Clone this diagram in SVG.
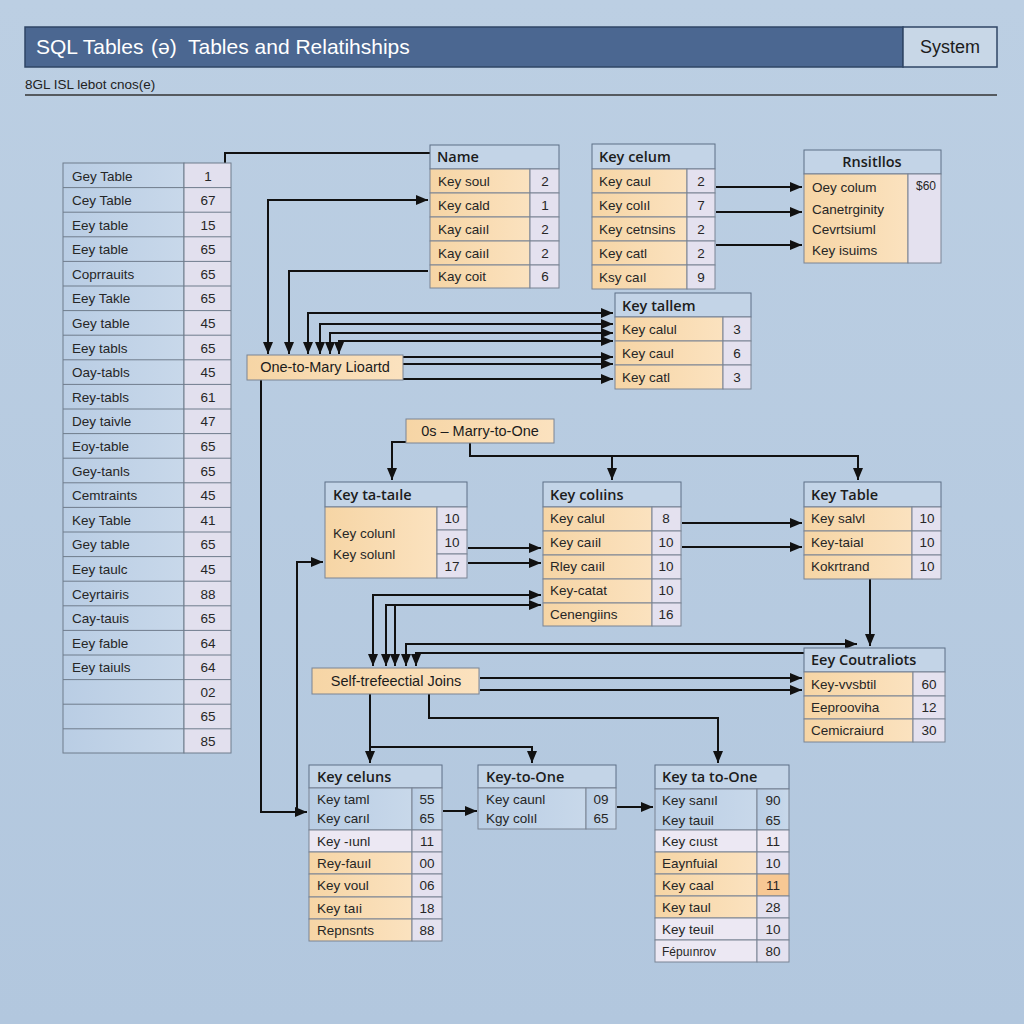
<svg xmlns="http://www.w3.org/2000/svg" width="1024" height="1024" viewBox="0 0 1024 1024">
<defs>
<linearGradient id="bg" x1="0" y1="0" x2="0" y2="1"><stop offset="0" stop-color="#bccfe3"/><stop offset="1" stop-color="#b2c7de"/></linearGradient>
<linearGradient id="org" x1="0" y1="0" x2="1" y2="0"><stop offset="0" stop-color="#f6d5a5"/><stop offset="1" stop-color="#fbe2bf"/></linearGradient>
<linearGradient id="lb" x1="0" y1="0" x2="1" y2="0"><stop offset="0" stop-color="#b9cde4"/><stop offset="1" stop-color="#c8d8ea"/></linearGradient>
<marker id="ah" viewBox="0 0 12 10" refX="12" refY="5" markerWidth="12" markerHeight="10" markerUnits="userSpaceOnUse" orient="auto-start-reverse"><path d="M0,0 L12,5 L0,10 z" fill="#111"/></marker>
</defs>
<style>
.c{fill:none;stroke:#111;stroke-width:2}
.e{marker-end:url(#ah)}
.s{marker-start:url(#ah)}
.hd{fill:#c3d4e7;stroke:#5d6f86;stroke-width:1}
.o{fill:url(#org);stroke:#7a8494;stroke-width:1}
.v{fill:#e4e1ef;stroke:#7a8494;stroke-width:1}
.b{fill:url(#lb);stroke:#7a8494;stroke-width:1}
.w{fill:#ece8f3;stroke:#7a8494;stroke-width:1}
.t{font-family:"Liberation Sans",Arial,sans-serif;font-size:13.5px;fill:#262626}
.n{font-family:"Liberation Sans",Arial,sans-serif;font-size:13.5px;fill:#262626;text-anchor:middle}
.h{font-family:"Open Sans","Liberation Sans",sans-serif;font-size:14.5px;font-weight:600;fill:#1c1c1c}
.lbl{font-family:"Liberation Sans",Arial,sans-serif;font-size:14.5px;fill:#1c1c1c;text-anchor:middle}
</style>
<rect x="0" y="0" width="1024" height="1024" fill="url(#bg)"/>

<g id="header">
<rect x="25" y="27" width="878" height="40" fill="#4b6791" stroke="#2f4666" stroke-width="1.5"/>
<rect x="903" y="27" width="94" height="40" fill="#c8d7e7" stroke="#2f4666" stroke-width="1.5"/>
<text y="54" font-family="Liberation Sans, Arial, sans-serif" font-size="21" fill="#ffffff"><tspan x="36">SQL Tables</tspan><tspan x="151">(ə)</tspan><tspan x="188">Tables and Relatihships</tspan></text>
<text x="950" y="53" font-family="Liberation Sans, Arial, sans-serif" font-size="18" fill="#1c1c1c" text-anchor="middle">System</text>
<text x="25" y="89" font-family="Liberation Sans, Arial, sans-serif" font-size="13.5" fill="#222">8GL ISL lebot cnos(e)</text>
<line x1="25" y1="95" x2="997" y2="95" stroke="#333" stroke-width="1.3"/>
</g>

<g id="connectors">
<path class="c" d="M225,163 V153 H430"/>
<path class="c s e" d="M268,354 V200 H428"/>
<path class="c e" d="M428,271 H289 V354"/>
<path class="c s e" d="M308,354 V313 H613"/>
<path class="c s e" d="M320,354 V324 H613"/>
<path class="c s e" d="M330,354 V333 H613"/>
<path class="c s e" d="M339,354 V341 H613"/>
<path class="c e" d="M403,357 H613"/>
<path class="c e" d="M403,364 H613"/>
<path class="c e" d="M403,379 H613"/>
<path class="c e" d="M261,380 V812 H307"/>
<path class="c e" d="M297,812 V562 H323"/>
<path class="c e" d="M406,442 H392 V480"/>
<path class="c e" d="M470,443 V456 H858 V480"/>
<path class="c e" d="M612,456 V480"/>
<path class="c e" d="M468,548 H541"/>
<path class="c e" d="M468,563 H541"/>
<path class="c e" d="M682,523 H802"/>
<path class="c e" d="M682,547 H802"/>
<path class="c e" d="M870,579 V646"/>
<path class="c e" d="M716,187 H802"/>
<path class="c e" d="M716,212 H802"/>
<path class="c e" d="M716,245 H802"/>
<path class="c s e" d="M373,666 V595 H541"/>
<path class="c s e" d="M386,666 V605 H541"/>
<path class="c s" d="M395,666 V605"/>
<path class="c s e" d="M406,666 V644 H857"/>
<path class="c s" d="M416,666 V653 H804"/>
<path class="c e" d="M480,678 H802"/>
<path class="c e" d="M480,690 H802"/>
<path class="c e" d="M429,694 V718 H718 V763"/>
<path class="c e" d="M370,694 V763"/>
<path class="c e" d="M370,747 H532 V763"/>
<path class="c e" d="M443,811 H477"/>
<path class="c e" d="M617,807 H653"/>
</g>

<g id="left-table">
<rect x="63" y="163" width="121" height="590" fill="url(#lb)" stroke="#6f7c8c"/>
<rect x="184" y="163" width="47" height="590" fill="#e2e0ee" stroke="#6f7c8c"/>
<g stroke="#6f7c8c" stroke-width="1">
<line x1="63" y1="187.6" x2="231" y2="187.6"/><line x1="63" y1="212.2" x2="231" y2="212.2"/><line x1="63" y1="236.8" x2="231" y2="236.8"/><line x1="63" y1="261.4" x2="231" y2="261.4"/><line x1="63" y1="286" x2="231" y2="286"/><line x1="63" y1="310.6" x2="231" y2="310.6"/><line x1="63" y1="335.2" x2="231" y2="335.2"/><line x1="63" y1="359.8" x2="231" y2="359.8"/><line x1="63" y1="384.4" x2="231" y2="384.4"/><line x1="63" y1="409" x2="231" y2="409"/><line x1="63" y1="433.6" x2="231" y2="433.6"/><line x1="63" y1="458.2" x2="231" y2="458.2"/><line x1="63" y1="482.8" x2="231" y2="482.8"/><line x1="63" y1="507.4" x2="231" y2="507.4"/><line x1="63" y1="532" x2="231" y2="532"/><line x1="63" y1="556.6" x2="231" y2="556.6"/><line x1="63" y1="581.2" x2="231" y2="581.2"/><line x1="63" y1="605.8" x2="231" y2="605.8"/><line x1="63" y1="630.4" x2="231" y2="630.4"/><line x1="63" y1="655" x2="231" y2="655"/><line x1="63" y1="679.6" x2="231" y2="679.6"/><line x1="63" y1="704.2" x2="231" y2="704.2"/><line x1="63" y1="728.8" x2="231" y2="728.8"/>
</g>
<text class="t" x="72" y="180.5">Gey Table</text><text class="n" x="208" y="180.5">1</text>
<text class="t" x="72" y="205">Cey Table</text><text class="n" x="208" y="205">67</text>
<text class="t" x="72" y="229.5">Eey table</text><text class="n" x="208" y="229.5">15</text>
<text class="t" x="72" y="254">Eey table</text><text class="n" x="208" y="254">65</text>
<text class="t" x="72" y="278.5">Coprrauits</text><text class="n" x="208" y="278.5">65</text>
<text class="t" x="72" y="303">Eey Takle</text><text class="n" x="208" y="303">65</text>
<text class="t" x="72" y="328">Gey table</text><text class="n" x="208" y="328">45</text>
<text class="t" x="72" y="352.5">Eey tabls</text><text class="n" x="208" y="352.5">65</text>
<text class="t" x="72" y="377">Oay-tabls</text><text class="n" x="208" y="377">45</text>
<text class="t" x="72" y="401.5">Rey-tabls</text><text class="n" x="208" y="401.5">61</text>
<text class="t" x="72" y="426">Dey taivle</text><text class="n" x="208" y="426">47</text>
<text class="t" x="72" y="451">Eoy-table</text><text class="n" x="208" y="451">65</text>
<text class="t" x="72" y="475.5">Gey-tanls</text><text class="n" x="208" y="475.5">65</text>
<text class="t" x="72" y="500">Cemtraints</text><text class="n" x="208" y="500">45</text>
<text class="t" x="72" y="524.5">Key Table</text><text class="n" x="208" y="524.5">41</text>
<text class="t" x="72" y="549">Gey table</text><text class="n" x="208" y="549">65</text>
<text class="t" x="72" y="574">Eey taulc</text><text class="n" x="208" y="574">45</text>
<text class="t" x="72" y="598.5">Ceyrtairis</text><text class="n" x="208" y="598.5">88</text>
<text class="t" x="72" y="623">Cay-tauis</text><text class="n" x="208" y="623">65</text>
<text class="t" x="72" y="647.5">Eey fable</text><text class="n" x="208" y="647.5">64</text>
<text class="t" x="72" y="672">Eey taiuls</text><text class="n" x="208" y="672">64</text>
<text class="n" x="208" y="697">02</text>
<text class="n" x="208" y="721">65</text>
<text class="n" x="208" y="746">85</text>
</g>

<g id="name-table">
<rect class="hd" x="430" y="145" width="129" height="24"/>
<text class="h" x="437" y="162">Name</text>
<rect class="o" x="430" y="169" width="100" height="24"/><rect class="v" x="530" y="169" width="29" height="24"/>
<rect class="o" x="430" y="193" width="100" height="24"/><rect class="v" x="530" y="193" width="29" height="24"/>
<rect class="o" x="430" y="217" width="100" height="24"/><rect class="v" x="530" y="217" width="29" height="24"/>
<rect class="o" x="430" y="241" width="100" height="24"/><rect class="v" x="530" y="241" width="29" height="24"/>
<rect class="o" x="430" y="265" width="100" height="23"/><rect class="v" x="530" y="265" width="29" height="23"/>
<text class="t" x="438" y="186">Key soul</text><text class="n" x="545" y="186">2</text>
<text class="t" x="438" y="210">Key cald</text><text class="n" x="545" y="210">1</text>
<text class="t" x="438" y="234">Kay caiıl</text><text class="n" x="545" y="234">2</text>
<text class="t" x="438" y="258">Kay caiıl</text><text class="n" x="545" y="258">2</text>
<text class="t" x="438" y="281">Kay coit</text><text class="n" x="545" y="281">6</text>
</g>

<g id="key-celum">
<rect class="hd" x="592" y="144" width="123" height="25"/>
<text class="h" x="599" y="162">Key celum</text>
<rect class="o" x="592" y="169" width="95" height="24"/><rect class="v" x="687" y="169" width="28" height="24"/>
<rect class="o" x="592" y="193" width="95" height="24"/><rect class="v" x="687" y="193" width="28" height="24"/>
<rect class="o" x="592" y="217" width="95" height="24"/><rect class="v" x="687" y="217" width="28" height="24"/>
<rect class="o" x="592" y="241" width="95" height="24"/><rect class="v" x="687" y="241" width="28" height="24"/>
<rect class="o" x="592" y="265" width="95" height="24"/><rect class="v" x="687" y="265" width="28" height="24"/>
<text class="t" x="599" y="186">Key caul</text><text class="n" x="701" y="186">2</text>
<text class="t" x="599" y="210">Key colıl</text><text class="n" x="701" y="210">7</text>
<text class="t" x="599" y="234">Key cetnsins</text><text class="n" x="701" y="234">2</text>
<text class="t" x="599" y="258">Key catl</text><text class="n" x="701" y="258">2</text>
<text class="t" x="599" y="282">Ksy caıl</text><text class="n" x="701" y="282">9</text>
</g>

<g id="rnsitlios">
<rect class="hd" x="804" y="150" width="137" height="24"/>
<text class="h" x="872" y="167" text-anchor="middle">Rnsitllos</text>
<rect class="o" x="804" y="174" width="104" height="89"/><rect class="v" x="908" y="174" width="33" height="89"/>
<text class="t" x="812" y="192">Oey colum</text>
<text class="t" x="812" y="214">Canetrginity</text>
<text class="t" x="812" y="234">Cevrtsiuml</text>
<text class="t" x="812" y="255">Key isuims</text>
<text class="n" x="926" y="190" style="font-size:12px">$60</text>
</g>

<g id="key-tallem">
<rect class="hd" x="615" y="293" width="136" height="24"/>
<text class="h" x="622" y="311">Key tallem</text>
<rect class="o" x="615" y="317" width="108" height="24"/><rect class="v" x="723" y="317" width="28" height="24"/>
<rect class="o" x="615" y="341" width="108" height="24"/><rect class="v" x="723" y="341" width="28" height="24"/>
<rect class="o" x="615" y="365" width="108" height="24"/><rect class="v" x="723" y="365" width="28" height="24"/>
<text class="t" x="622" y="334">Key calul</text><text class="n" x="737" y="334">3</text>
<text class="t" x="622" y="358">Key caul</text><text class="n" x="737" y="358">6</text>
<text class="t" x="622" y="382">Key catl</text><text class="n" x="737" y="382">3</text>
</g>

<g id="one-to-many">
<rect x="247" y="355" width="156" height="25" fill="url(#org)" stroke="#7a8494"/>
<text class="lbl" x="325" y="372">One-to-Mary Lioartd</text>
</g>

<g id="many-to-one">
<rect x="406" y="419" width="148" height="24" fill="url(#org)" stroke="#7a8494"/>
<text class="lbl" x="480" y="436">0s – Marry-to-One</text>
</g>

<g id="key-ta-table">
<rect class="hd" x="325" y="482" width="142" height="25"/>
<text class="h" x="333" y="500">Key ta-taıle</text>
<rect class="o" x="325" y="507" width="112" height="71"/>
<rect class="v" x="437" y="507" width="30" height="23"/><rect class="v" x="437" y="530" width="30" height="24"/><rect class="v" x="437" y="554" width="30" height="24"/>
<text class="t" x="333" y="538">Key colunl</text>
<text class="t" x="333" y="559">Key solunl</text>
<text class="n" x="452" y="523">10</text><text class="n" x="452" y="547">10</text><text class="n" x="452" y="571">17</text>
</g>

<g id="key-colins">
<rect class="hd" x="543" y="482" width="138" height="25"/>
<text class="h" x="550" y="500">Key colıins</text>
<rect class="o" x="543" y="507" width="109" height="24"/><rect class="v" x="652" y="507" width="29" height="24"/>
<rect class="o" x="543" y="531" width="109" height="24"/><rect class="v" x="652" y="531" width="29" height="24"/>
<rect class="o" x="543" y="555" width="109" height="24"/><rect class="v" x="652" y="555" width="29" height="24"/>
<rect class="o" x="543" y="579" width="109" height="24"/><rect class="v" x="652" y="579" width="29" height="24"/>
<rect class="o" x="543" y="603" width="109" height="23"/><rect class="v" x="652" y="603" width="29" height="23"/>
<text class="t" x="550" y="523">Key calul</text><text class="n" x="666" y="523">8</text>
<text class="t" x="550" y="547">Key caıil</text><text class="n" x="666" y="547">10</text>
<text class="t" x="550" y="571">Rley caıil</text><text class="n" x="666" y="571">10</text>
<text class="t" x="550" y="595">Key-catat</text><text class="n" x="666" y="595">10</text>
<text class="t" x="550" y="619">Cenengiins</text><text class="n" x="666" y="619">16</text>
</g>

<g id="key-table">
<rect class="hd" x="804" y="482" width="137" height="25"/>
<text class="h" x="811" y="500">Key Table</text>
<rect class="o" x="804" y="507" width="108" height="24"/><rect class="v" x="912" y="507" width="29" height="24"/>
<rect class="o" x="804" y="531" width="108" height="24"/><rect class="v" x="912" y="531" width="29" height="24"/>
<rect class="o" x="804" y="555" width="108" height="24"/><rect class="v" x="912" y="555" width="29" height="24"/>
<text class="t" x="811" y="523">Key salvl</text><text class="n" x="927" y="523">10</text>
<text class="t" x="811" y="547">Key-taial</text><text class="n" x="927" y="547">10</text>
<text class="t" x="811" y="571">Kokrtrand</text><text class="n" x="927" y="571">10</text>
</g>

<g id="self-joins">
<rect x="312" y="668" width="167" height="26" fill="url(#org)" stroke="#7a8494"/>
<text class="lbl" x="396" y="686">Self-trefeectial Joins</text>
</g>

<g id="eey-contraliots">
<rect class="hd" x="804" y="648" width="141" height="24"/>
<text class="h" x="811" y="665">Eey Coutraliots</text>
<rect class="o" x="804" y="672" width="109" height="24"/><rect class="v" x="913" y="672" width="32" height="24"/>
<rect class="o" x="804" y="696" width="109" height="23"/><rect class="v" x="913" y="696" width="32" height="23"/>
<rect class="o" x="804" y="719" width="109" height="23"/><rect class="v" x="913" y="719" width="32" height="23"/>
<text class="t" x="811" y="689">Key-vvsbtil</text><text class="n" x="929" y="689">60</text>
<text class="t" x="811" y="712">Eeprooviha</text><text class="n" x="929" y="712">12</text>
<text class="t" x="811" y="735">Cemicraiurd</text><text class="n" x="929" y="735">30</text>
</g>

<g id="key-celuns">
<rect class="hd" x="309" y="765" width="133" height="23"/>
<text class="h" x="317" y="782">Key celuns</text>
<rect class="b" x="309" y="788" width="103" height="42"/><rect class="b" x="412" y="788" width="30" height="42"/>
<rect class="w" x="309" y="830" width="103" height="22"/><rect class="v" x="412" y="830" width="30" height="22"/>
<rect class="o" x="309" y="852" width="103" height="22"/><rect class="v" x="412" y="852" width="30" height="22"/>
<rect class="o" x="309" y="874" width="103" height="23"/><rect class="v" x="412" y="874" width="30" height="23"/>
<rect class="o" x="309" y="897" width="103" height="22"/><rect class="v" x="412" y="897" width="30" height="22"/>
<rect class="o" x="309" y="919" width="103" height="22"/><rect class="v" x="412" y="919" width="30" height="22"/>
<text class="t" x="317" y="804">Key taml</text><text class="n" x="427" y="804">55</text>
<text class="t" x="317" y="823">Key carıl</text><text class="n" x="427" y="823">65</text>
<text class="t" x="317" y="846">Key -ıunl</text><text class="n" x="427" y="846">11</text>
<text class="t" x="317" y="868">Rey-fauıl</text><text class="n" x="427" y="868">00</text>
<text class="t" x="317" y="890">Key voul</text><text class="n" x="427" y="890">06</text>
<text class="t" x="317" y="913">Key taıi</text><text class="n" x="427" y="913">18</text>
<text class="t" x="317" y="935">Repnsnts</text><text class="n" x="427" y="935">88</text>
</g>

<g id="key-to-one">
<rect class="hd" x="478" y="765" width="138" height="23"/>
<text class="h" x="486" y="782">Key-to-One</text>
<rect class="b" x="478" y="788" width="108" height="41"/><rect class="b" x="586" y="788" width="30" height="41"/>
<text class="t" x="486" y="804">Key caunl</text><text class="n" x="601" y="804">09</text>
<text class="t" x="486" y="823">Kgy colıl</text><text class="n" x="601" y="823">65</text>
</g>

<g id="key-ta-to-one">
<rect class="hd" x="655" y="765" width="134" height="24"/>
<text class="h" x="662" y="782">Key ta to-One</text>
<rect class="b" x="655" y="789" width="102" height="41"/><rect class="b" x="757" y="789" width="32" height="41"/>
<rect class="w" x="655" y="830" width="102" height="22"/><rect class="w" x="757" y="830" width="32" height="22"/>
<rect class="o" x="655" y="852" width="102" height="22"/><rect class="v" x="757" y="852" width="32" height="22"/>
<rect class="o" x="655" y="874" width="102" height="22"/><rect x="757" y="874" width="32" height="22" fill="#f7c894" stroke="#7a8494"/>
<rect class="o" x="655" y="896" width="102" height="22"/><rect class="v" x="757" y="896" width="32" height="22"/>
<rect class="w" x="655" y="918" width="102" height="22"/><rect class="v" x="757" y="918" width="32" height="22"/>
<rect class="w" x="655" y="940" width="102" height="22"/><rect class="v" x="757" y="940" width="32" height="22"/>
<text class="t" x="662" y="805">Key sanıl</text><text class="n" x="773" y="805">90</text>
<text class="t" x="662" y="825">Key tauil</text><text class="n" x="773" y="825">65</text>
<text class="t" x="662" y="846">Key cıust</text><text class="n" x="773" y="846">11</text>
<text class="t" x="662" y="868">Eaynfuial</text><text class="n" x="773" y="868">10</text>
<text class="t" x="662" y="890">Key caal</text><text class="n" x="773" y="890">11</text>
<text class="t" x="662" y="912">Key taul</text><text class="n" x="773" y="912">28</text>
<text class="t" x="662" y="934">Key teuil</text><text class="n" x="773" y="934">10</text>
<text class="t" x="662" y="956" style="font-size:12px">Fépuınrov</text><text class="n" x="773" y="956">80</text>
</g>
</svg>
